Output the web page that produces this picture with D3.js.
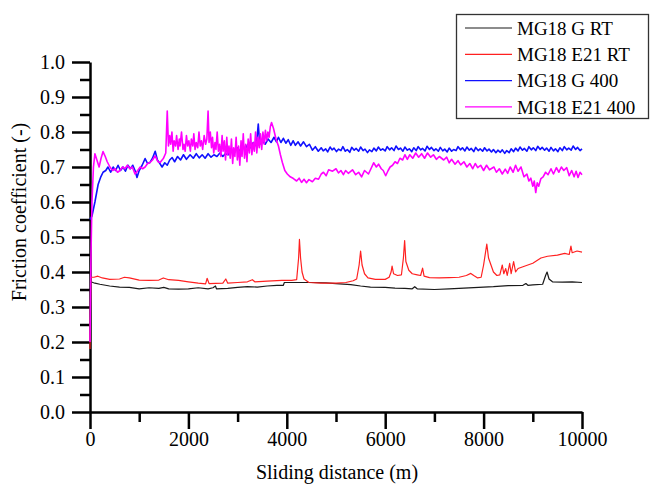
<!DOCTYPE html>
<head>
    <meta charset="utf-8">
    <script src="https://d3js.org/d3.v7.min.js"></script>
    <style>
        @font-face { font-family: "ChartSerif"; src: local("Liberation Serif"), local("LiberationSerif"), local("Tinos"); }
    </style>
</head>
<body style="margin:0">
<svg width="650" height="486"></svg>
<script>
    // inline, so it wins over anything else in the cascade
    function serifStyle(px) {
        return "font-family: 'Liberation Serif', ChartSerif, Tinos, 'Times New Roman', serif !important; font-size: " + px + "px !important;";
    }

    // series names / legend
    var seriesNames = ["MG18 G RT", "MG18 E21 RT", "MG18 G 400", "MG18 E21 400"];
    var seriesColors = ["#1a1a1a", "#ff2020", "#1010ff", "#ff00ff"];

    // x tick labels (m) and y tick labels (-)
    var xMajor = [0, 2000, 4000, 6000, 8000, 10000];
    var xMinor = [1000, 3000, 5000, 7000, 9000];
    var yMajor = [0, 0.1, 0.2, 0.3, 0.4, 0.5, 0.6, 0.7, 0.8, 0.9, 1.0];
    var yMinor = [0.05, 0.15, 0.25, 0.35, 0.45, 0.55, 0.65, 0.75, 0.85, 0.95];

    // [sliding distance (m), friction coefficient]
    var gRT = [[0,0.44],[15,0.372],[100,0.368],[200,0.365],[400,0.36],[600,0.357],[800,0.356],[1000,0.352],
        [1200,0.355],[1400,0.353],[1500,0.356],[1600,0.352],[1800,0.351],[2000,0.352],[2200,0.355],[2400,0.352],
        [2500,0.355],[2550,0.36],[2570,0.352],[2800,0.353],[3000,0.356],[3200,0.358],[3400,0.357],[3600,0.36],
        [3800,0.362],[3930,0.362],[3950,0.37],[4200,0.37],[4500,0.37],[4800,0.369],[5000,0.367],[5300,0.364],
        [5500,0.36],[5700,0.357],[6000,0.356],[6200,0.354],[6400,0.353],[6550,0.352],[6600,0.358],[6650,0.352],
        [7000,0.35],[7300,0.352],[7600,0.354],[7900,0.356],[8200,0.358],[8500,0.361],[8800,0.362],[8860,0.367],
        [8900,0.362],[9000,0.363],[9200,0.365],[9260,0.39],[9290,0.40],[9330,0.38],[9400,0.372],[9600,0.371],
        [9800,0.372],[10000,0.37]];

    var e21RT = [[0,0.18],[15,0.385],[80,0.385],[160,0.388],[250,0.383],[400,0.379],[600,0.38],[700,0.385],
        [800,0.383],[1000,0.377],[1200,0.376],[1400,0.377],[1490,0.383],[1600,0.378],[1800,0.376],[2000,0.372],
        [2200,0.368],[2350,0.366],[2380,0.382],[2420,0.367],[2700,0.368],[2760,0.38],[2800,0.368],[3000,0.37],
        [3200,0.372],[3300,0.378],[3350,0.372],[3600,0.374],[3900,0.376],[4100,0.376],[4200,0.378],[4240,0.44],
        [4257,0.493],[4280,0.44],[4310,0.40],[4350,0.38],[4450,0.37],[4700,0.368],[5000,0.368],[5200,0.37],
        [5350,0.375],[5420,0.38],[5470,0.42],[5500,0.46],[5530,0.42],[5580,0.395],[5650,0.383],[5800,0.379],
        [6000,0.379],[6080,0.385],[6120,0.40],[6140,0.417],[6170,0.395],[6250,0.39],[6330,0.392],[6370,0.44],
        [6395,0.49],[6420,0.43],[6480,0.405],[6550,0.395],[6650,0.392],[6720,0.39],[6760,0.411],[6790,0.388],
        [6900,0.384],[7100,0.383],[7300,0.384],[7500,0.385],[7650,0.39],[7740,0.396],[7800,0.39],[7880,0.383],
        [7950,0.385],[8000,0.42],[8065,0.48],[8100,0.44],[8150,0.42],[8200,0.40],[8270,0.39],[8330,0.392],
        [8380,0.42],[8410,0.395],[8450,0.41],[8480,0.39],[8530,0.425],[8560,0.395],[8610,0.43],[8650,0.40],
        [8700,0.41],[8800,0.415],[9000,0.425],[9165,0.44],[9300,0.445],[9500,0.448],[9650,0.453],[9740,0.45],
        [9775,0.474],[9800,0.455],[9900,0.46],[10000,0.457]];

    var g400 = [[0,0.55],[40,0.56],[100,0.60],[165,0.65],[220,0.672],[265,0.685],[320,0.69],[365,0.70],
        [420,0.685],[470,0.70],[520,0.69],[570,0.705],[620,0.69],[670,0.70],[720,0.688],[770,0.705],[820,0.695],
        [870,0.705],[915,0.69],[955,0.67],[1000,0.69],[1060,0.705],[1120,0.724],[1170,0.71],[1220,0.713],
        [1270,0.725],[1325,0.745],[1370,0.72],[1420,0.71],[1465,0.70],[1520,0.712],[1570,0.705],[1620,0.72],
        [1670,0.727],[1720,0.715],[1780,0.73],[1840,0.72],[1900,0.735],[1960,0.722],[2035,0.735],[2100,0.725],
        [2160,0.738],[2220,0.726],[2280,0.735],[2340,0.725],[2400,0.738],[2460,0.728],[2520,0.735],[2580,0.73],
        [2640,0.74],[2700,0.73],[2750,0.738],[2810,0.735],[2870,0.748],[2930,0.74],[2990,0.755],[3050,0.745],
        [3100,0.76],[3155,0.752],[3210,0.765],[3260,0.755],[3320,0.77],[3380,0.76],[3420,0.823],[3450,0.765],
        [3500,0.775],[3560,0.765],[3620,0.78],[3680,0.77],[3740,0.785],[3790,0.772],[3830,0.785],[3880,0.77],
        [3930,0.782],[3980,0.768],[4030,0.778],[4080,0.762],[4130,0.775],[4175,0.762],[4230,0.772],[4280,0.76],
        [4340,0.772],[4400,0.758],[4460,0.765],[4520,0.748],[4580,0.758],[4640,0.745],
        [4700,0.755],[4740,0.746],[4790,0.752],[4830,0.743],[4880,0.757],[4920,0.749],[4960,0.754],[5010,0.744],
        [5050,0.751],[5100,0.747],[5140,0.758],[5190,0.745],[5230,0.75],[5280,0.742],[5320,0.756],[5370,0.748],
        [5410,0.753],[5460,0.745],[5500,0.757],[5550,0.747],[5590,0.751],[5640,0.741],[5680,0.749],[5730,0.744],
        [5770,0.754],[5820,0.746],[5860,0.757],[5910,0.748],[5950,0.752],[6000,0.746],[6040,0.758],[6090,0.749],
        [6130,0.755],[6180,0.747],[6220,0.76],[6270,0.75],[6310,0.754],[6360,0.745],[6400,0.757],[6450,0.748],
        [6490,0.752],[6540,0.744],[6580,0.755],[6630,0.747],[6670,0.758],[6720,0.749],[6760,0.753],[6810,0.746],
        [6850,0.759],[6900,0.75],[6940,0.756],[6990,0.747],[7030,0.752],[7080,0.745],[7120,0.756],[7170,0.746],
        [7210,0.751],[7260,0.743],[7300,0.754],[7350,0.745],[7390,0.75],[7440,0.747],[7480,0.758],[7530,0.749],
        [7570,0.755],[7620,0.746],[7660,0.757],[7710,0.748],[7750,0.753],[7800,0.744],[7840,0.756],[7890,0.747],
        [7930,0.752],[7980,0.745],[8020,0.755],[8070,0.746],[8110,0.751],[8160,0.743],[8200,0.75],[8250,0.741],
        [8290,0.748],[8340,0.742],[8380,0.749],[8430,0.739],[8470,0.747],[8520,0.741],[8560,0.752],[8610,0.744],
        [8650,0.754],[8700,0.746],[8740,0.757],[8790,0.748],[8830,0.753],[8880,0.745],[8920,0.758],[8970,0.749],
        [9010,0.755],[9060,0.747],[9100,0.759],[9150,0.75],[9190,0.756],[9240,0.748],[9280,0.754],[9330,0.745],
        [9370,0.756],[9420,0.746],[9460,0.752],[9510,0.744],[9550,0.755],[9600,0.747],[9640,0.758],[9690,0.749],
        [9730,0.754],[9780,0.748],[9820,0.76],[9870,0.75],[9910,0.756],[9960,0.747],[10000,0.752]];

    var e21400 = [[0,0.20],[20,0.45],[40,0.60],[70,0.70],[100,0.738],[140,0.72],[185,0.70],[225,0.725],
        [265,0.744],[310,0.73],[350,0.715],[405,0.70],[460,0.69],[510,0.695],[560,0.685],[610,0.69],[660,0.70],
        [710,0.695],[760,0.705],[810,0.695],[860,0.70],[915,0.68],[970,0.69],[1020,0.70],[1070,0.695],[1120,0.70],
        [1170,0.71],[1220,0.713],[1270,0.72],[1325,0.732],[1380,0.715],[1425,0.713],[1490,0.724],[1540,0.74],
        [1570,0.86],[1595,0.76],[1620,0.79],[1640,0.765],[1665,0.80],[1690,0.745],[1710,0.775],[1740,0.76],
        [1760,0.79],[1790,0.75],[1815,0.78],[1830,0.76],[1860,0.8],[1890,0.75],[1910,0.765],[1935,0.745],
        [1960,0.79],[1985,0.76],[2010,0.775],[2040,0.745],[2060,0.78],[2090,0.76],[2110,0.795],[2135,0.75],
        [2160,0.77],[2190,0.755],[2215,0.8],[2240,0.76],[2265,0.775],[2290,0.75],[2320,0.79],[2350,0.765],
        [2375,0.78],[2400,0.86],[2420,0.77],[2445,0.80],[2470,0.755],[2490,0.785],[2515,0.74],[2540,0.77],
        [2560,0.75],[2585,0.8],[2610,0.745],[2635,0.765],[2660,0.73],[2685,0.79],[2705,0.745],[2730,0.775],
        [2755,0.72],[2780,0.785],[2800,0.735],[2825,0.76],[2850,0.725],[2875,0.78],[2900,0.71],[2920,0.755],
        [2945,0.73],[2970,0.785],[2995,0.72],[3020,0.76],[3045,0.705],[3070,0.775],[3090,0.73],[3115,0.795],
        [3140,0.725],[3165,0.765],[3190,0.715],[3215,0.78],[3240,0.74],[3265,0.795],[3290,0.735],[3315,0.77],
        [3340,0.745],[3365,0.8],[3390,0.74],[3415,0.785],[3440,0.755],[3465,0.795],[3490,0.75],[3515,0.8],
        [3540,0.765],[3565,0.805],[3590,0.775],[3615,0.8],[3640,0.785],[3665,0.815],[3690,0.827],
        [3730,0.81],[3780,0.78],[3830,0.76],[3870,0.735],[3910,0.713],[3960,0.69],[4010,0.68],[4070,0.672],
        [4135,0.667],[4200,0.66],[4250,0.668],[4300,0.656],[4350,0.665],[4400,0.655],[4450,0.664],[4520,0.658],
        [4580,0.668],[4645,0.665],[4700,0.68],[4745,0.685],[4800,0.675],[4850,0.692],[4930,0.688],[5000,0.695],
        [5050,0.683],[5100,0.69],[5150,0.678],[5195,0.69],[5250,0.682],[5335,0.692],[5400,0.678],[5460,0.685],
        [5520,0.672],[5580,0.69],[5660,0.68],[5710,0.695],[5765,0.712],[5820,0.70],[5865,0.708],[5920,0.695],
        [5960,0.69],[6010,0.675],[6060,0.69],[6100,0.70],[6150,0.705],[6200,0.715],[6250,0.71],[6300,0.725],
        [6355,0.72],[6400,0.735],[6450,0.722],[6500,0.735],[6560,0.725],[6620,0.74],[6680,0.728],[6740,0.738],
        [6800,0.725],[6860,0.74],[6925,0.728],[6980,0.735],[7040,0.722],[7100,0.73],[7190,0.72],[7250,0.728],
        [7300,0.712],[7350,0.722],[7420,0.708],[7480,0.718],[7535,0.706],[7600,0.715],[7660,0.70],[7720,0.71],
        [7780,0.695],[7830,0.71],[7880,0.698],[7940,0.705],[8000,0.69],[8060,0.705],[8120,0.692],[8210,0.70],
        [8260,0.685],[8320,0.695],[8380,0.68],[8440,0.694],[8490,0.682],[8540,0.70],[8600,0.685],[8650,0.705],
        [8700,0.688],[8760,0.70],[8820,0.672],[8880,0.68],[8920,0.66],[8960,0.668],[9000,0.645],[9030,0.66],
        [9060,0.627],[9090,0.655],[9120,0.645],[9165,0.667],[9210,0.672],[9260,0.685],[9310,0.678],[9370,0.695],
        [9420,0.68],[9480,0.698],[9530,0.685],[9580,0.70],[9630,0.69],[9690,0.698],[9740,0.675],[9790,0.69],
        [9840,0.672],[9880,0.688],[9920,0.67],[9960,0.685],[10000,0.678]];

    var allSeries = [gRT, e21RT, g400, e21400];

    var svg = d3.select("svg");

    var x = d3.scaleLinear().domain([0, 10000]).range([90, 582]);
    var y = d3.scaleLinear().domain([0, 1]).range([412, 62]);

    function styleAxis(g) {
        g.attr("font-family", "Liberation Serif").attr("font-size", 20);
        g.selectAll("path, line").attr("stroke", "#000").attr("stroke-width", 2.5);
        g.selectAll("text").attr("fill", "#000").attr("style", serifStyle(20));
    }

    // minor ticks
    svg.append("g")
        .attr("transform", "translate(0," + y(0) + ")")
        .call(d3.axisBottom(x).tickValues(xMinor).tickSize(10).tickSizeOuter(0).tickFormat(""))
        .call(styleAxis)
        .select(".domain").remove();
    svg.append("g")
        .attr("transform", "translate(" + x(0) + ",0)")
        .call(d3.axisLeft(y).tickValues(yMinor).tickSize(10).tickSizeOuter(0).tickFormat(""))
        .call(styleAxis)
        .select(".domain").remove();

    // major ticks + labels
    svg.append("g")
        .attr("transform", "translate(0," + y(0) + ")")
        .call(d3.axisBottom(x).tickValues(xMajor).tickSize(17).tickSizeOuter(0).tickPadding(3).tickFormat(d3.format("d")))
        .call(styleAxis);
    svg.append("g")
        .attr("transform", "translate(" + x(0) + ",0)")
        .call(d3.axisLeft(y).tickValues(yMajor).tickSize(18).tickSizeOuter(0).tickPadding(7).tickFormat(d3.format(".1f")))
        .call(styleAxis);

    // series lines
    var line = d3.line()
        .x(function (d) { return x(d[0]); })
        .y(function (d) { return y(d[1]); });

    svg.append("g")
        .selectAll("path")
        .data(allSeries)
        .enter().append("path")
        .attr("d", line)
        .attr("fill", "none")
        .attr("stroke", function (d, i) { return seriesColors[i]; })
        .attr("stroke-width", function (d, i) { return i < 2 ? 1.2 : 1.6; })
        .attr("stroke-linejoin", "round");

    // axis titles
    svg.append("text")
        .attr("x", 337).attr("y", 479)
        .attr("text-anchor", "middle")
        .attr("font-family", "Liberation Serif")
        .attr("style", serifStyle(20))
        .text("Sliding distance (m)");

    svg.append("text")
        .attr("transform", "translate(26,212) rotate(-90)")
        .attr("text-anchor", "middle")
        .attr("font-family", "Liberation Serif")
        .attr("style", serifStyle(20))
        .text("Friction coefficient (-)");

    // legend
    var legend = svg.append("g");
    legend.append("rect")
        .attr("x", 456.5).attr("y", 14.5)
        .attr("width", 192).attr("height", 104)
        .attr("fill", "#fff")
        .attr("stroke", "#333")
        .attr("stroke-width", 1.3);

    var item = legend.selectAll("g.item")
        .data(seriesNames)
        .enter().append("g")
        .attr("class", "item")
        .attr("transform", function (d, i) { return "translate(0," + (28 + i * 26.3) + ")"; });

    item.append("line")
        .attr("x1", 465).attr("x2", 512)
        .attr("stroke", function (d, i) { return seriesColors[i]; })
        .attr("stroke-width", 1.2);

    item.append("text")
        .attr("x", 517).attr("dy", "0.35em")
        .attr("font-family", "Liberation Serif")
        .attr("style", serifStyle(19))
        .text(function (d) { return d; });
</script>
</body>
